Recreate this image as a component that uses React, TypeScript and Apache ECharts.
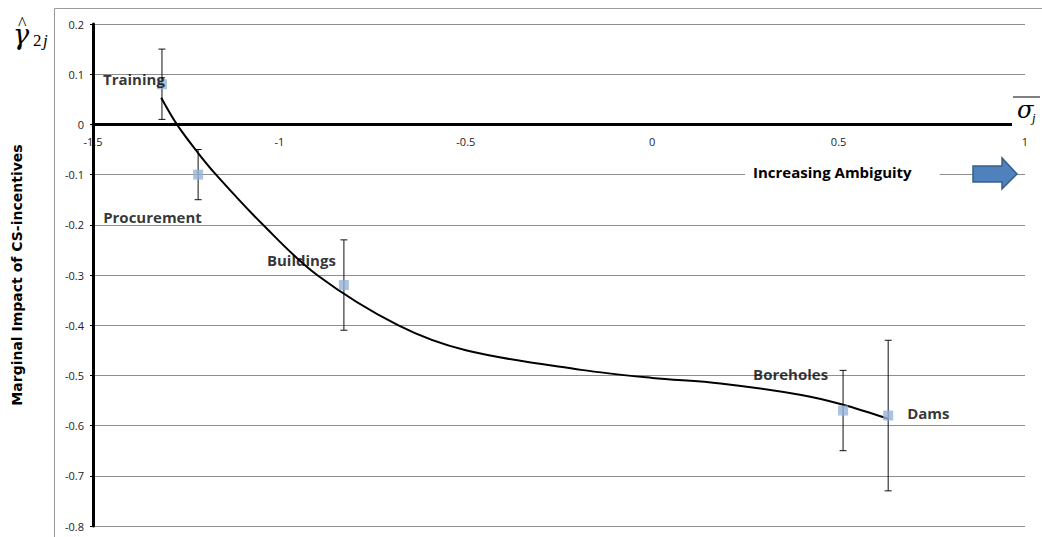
import React, { useEffect, useRef } from "react";
import * as echarts from "echarts";

const activities = ["Training", "Procurement", "Buildings", "Boreholes", "Dams"];
const ambiguity = [-1.315, -1.218, -0.827, 0.512, 0.633];
const impact = [0.08, -0.1, -0.32, -0.57, -0.58];
const errLow = [0.01, -0.15, -0.41, -0.65, -0.73];
const errHigh = [0.15, -0.05, -0.23, -0.49, -0.43];

const trendX = [-1.317, -1.275, -1.218, -1.17, -1.044, -0.899, -0.682, -0.5, -0.19, 0, 0.183, 0.4, 0.51, 0.635];
const trendY = [0.053, 0, -0.057, -0.1, -0.2, -0.3, -0.4, -0.45, -0.489, -0.505, -0.516, -0.539, -0.558, -0.587];

const xTicks = { min: -1.5, max: 1, interval: 0.5 };
const yTicks = { min: -0.8, max: 0.2, interval: 0.1 };

export default function App() {
  const ref = useRef<HTMLDivElement>(null);
  useEffect(() => {
    if (!ref.current) return;
    const chart = echarts.init(ref.current, null, { renderer: "svg" });
    const labelOffsets: number[][] = [
      [-54, 0],
      [-90, 47],
      [-72, -20],
      [-85, -32],
      [24, 2],
    ];
    const font = "'Open Sans', 'Noto Sans', sans-serif";
    const gridTop = 24;
    const gridBottom = 11;
    const plotH = 537 - gridTop - gridBottom;
    const zeroOffset = -plotH * ((0 - yTicks.min) / (yTicks.max - yTicks.min));
    const fmt = (v: number) => String(Math.round(v * 10) / 10);
    const option: any = {
      animation: false,
      backgroundColor: "#fff",
      grid: { left: 93, right: 17, top: gridTop, bottom: gridBottom },
      xAxis: {
        type: "value",
        position: "bottom",
        offset: zeroOffset,
        min: xTicks.min,
        max: xTicks.max,
        interval: xTicks.interval,
        axisLine: { onZero: false, lineStyle: { color: "#000", width: 3 } },
        axisTick: { show: false },
        splitLine: { show: false },
        axisLabel: {
          margin: 12,
          color: "#222",
          fontSize: 11,
          fontFamily: font,
          formatter: fmt,
        },
      },
      yAxis: {
        type: "value",
        min: yTicks.min,
        max: yTicks.max,
        interval: yTicks.interval,
        name: "Marginal Impact of CS-incentives",
        nameLocation: "middle",
        nameGap: 69,
        nameRotate: 90,
        nameTextStyle: {
          fontSize: 14,
          fontWeight: "bold",
          color: "#000",
          fontFamily: "'DejaVu Sans', sans-serif",
        },
        axisLine: { show: true, onZero: false, lineStyle: { color: "#000", width: 3 } },
        axisTick: { show: true, length: 3, lineStyle: { color: "#000" } },
        splitLine: { show: true, lineStyle: { color: "#8e8e8e", width: 1 } },
        axisLabel: {
          margin: 9,
          color: "#222",
          fontSize: 11,
          fontFamily: font,
          formatter: fmt,
        },
      },
      series: [
        {
          type: "line",
          data: trendX.map((x, i) => [x, trendY[i]]),
          smooth: 0.35,
          showSymbol: false,
          lineStyle: { color: "#000", width: 2 },
          z: 3,
        },
        {
          type: "custom",
          data: ambiguity.map((x, i) => [x, impact[i], errLow[i], errHigh[i]]),
          encode: { x: 0, y: 1 },
          renderItem: (params: any, api: any) => {
            const x = api.value(0);
            const lo = api.coord([x, api.value(2)]);
            const hi = api.coord([x, api.value(3)]);
            const cap = 3.5;
            const style = { stroke: "#111", lineWidth: 1 };
            return {
              type: "group",
              children: [
                { type: "line", shape: { x1: lo[0], y1: lo[1], x2: hi[0], y2: hi[1] }, style },
                { type: "line", shape: { x1: lo[0] - cap, y1: lo[1], x2: lo[0] + cap, y2: lo[1] }, style },
                { type: "line", shape: { x1: hi[0] - cap, y1: hi[1], x2: hi[0] + cap, y2: hi[1] }, style },
              ],
            };
          },
          z: 2,
        },
        {
          type: "scatter",
          symbol: "rect",
          symbolSize: 10,
          itemStyle: { color: "#95B3D7" },
          data: ambiguity.map((x, i) => ({
            value: [x, impact[i]],
            label: {
              show: true,
              formatter: activities[i],
              position: labelOffsets[i],
              align: "left",
              verticalAlign: "middle",
              fontSize: 15,
              fontWeight: "bold",
              color: "#000",
              fontFamily: font,
            },
          })),
          z: 4,
        },
      ],
      graphic: [
        {
          type: "rect",
          shape: { x: 54.5, y: 8.5, width: 1100, height: 700 },
          style: { fill: "none", stroke: "#9a9a9a", lineWidth: 1 },
          silent: true,
          z: 0,
        },
        {
          type: "text",
          left: 745,
          top: 162,
          style: {
            text: "Increasing Ambiguity",
            fontSize: 15,
            fontWeight: "bold",
            fill: "#000",
            fontFamily: font,
            backgroundColor: "#fff",
            padding: [2, 28, 2, 8],
          },
          z: 10,
        },
        {
          type: "polygon",
          shape: {
            points: [
              [973, 166],
              [1002, 166],
              [1002, 158],
              [1017, 174],
              [1002, 189],
              [1002, 182],
              [973, 182],
            ],
          },
          style: { fill: "#4F81BD", stroke: "#385D8A", lineWidth: 1.5 },
          z: 10,
        },
        {
          type: "rect",
          shape: { x: 1012, y: 92, width: 40, height: 34 },
          style: { fill: "#fff" },
          z: 10,
        },
        {
          type: "line",
          shape: { x1: 1013, y1: 97, x2: 1040, y2: 97 },
          style: { stroke: "#000", lineWidth: 1 },
          z: 11,
        },
        {
          type: "text",
          x: 1017,
          y: 110,
          style: {
            text: "σ",
            fontSize: 24,
            fontStyle: "italic",
            fontFamily: "'DejaVu Serif', 'Liberation Serif', serif",
            fill: "#000",
            verticalAlign: "middle",
          },
          z: 11,
        },
        {
          type: "text",
          x: 1032,
          y: 117,
          style: {
            text: "j",
            fontSize: 13,
            fontStyle: "italic",
            fontFamily: "'Liberation Serif', serif",
            fill: "#000",
            verticalAlign: "middle",
          },
          z: 11,
        },
        {
          type: "text",
          x: 13,
          y: 34,
          style: {
            text: "γ",
            fontSize: 27,
            fontStyle: "italic",
            fontFamily: "'DejaVu Serif', serif",
            fill: "#000",
            verticalAlign: "middle",
          },
          z: 11,
        },
        {
          type: "text",
          x: 18,
          y: 24,
          style: {
            text: "^",
            fontSize: 18,
            fontFamily: "'Liberation Serif', serif",
            fill: "#000",
            verticalAlign: "middle",
          },
          z: 11,
        },
        {
          type: "text",
          x: 33,
          y: 40,
          style: {
            text: "2",
            fontSize: 17,
            fontFamily: "'Liberation Serif', serif",
            fill: "#000",
            verticalAlign: "middle",
          },
          z: 11,
        },
        {
          type: "text",
          x: 43,
          y: 40,
          style: {
            text: "j",
            fontSize: 17,
            fontStyle: "italic",
            fontFamily: "'Liberation Serif', serif",
            fill: "#000",
            verticalAlign: "middle",
          },
          z: 11,
        },
      ],
    };
    chart.setOption(option);
    return () => chart.dispose();
  }, []);
  return (
    <div
      ref={ref}
      style={{ position: "absolute", left: 0, top: 0, width: 1042, height: 537 }}
    />
  );
}
